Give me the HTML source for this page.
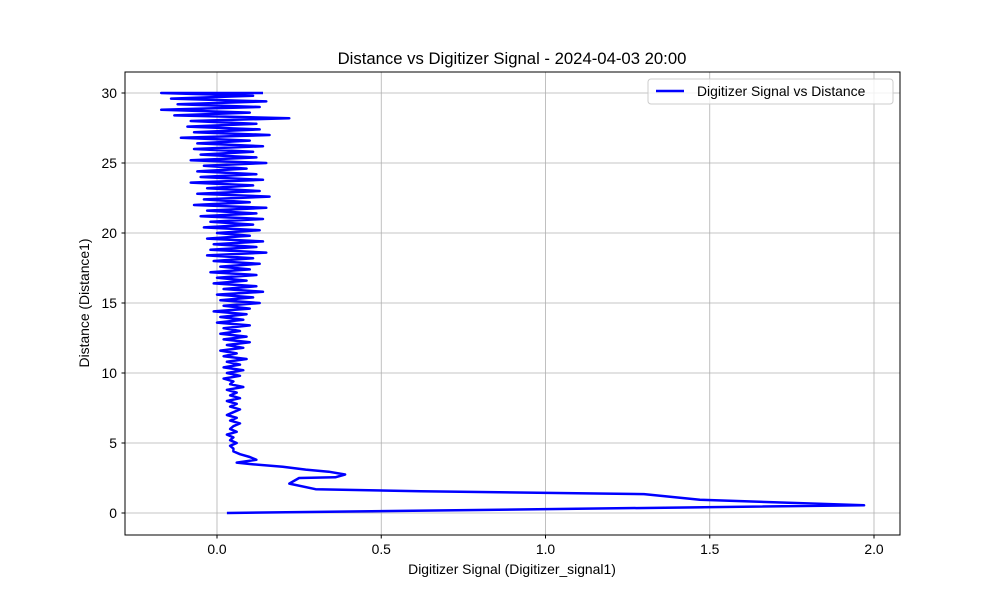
<!DOCTYPE html>
<html><head><meta charset="utf-8"><style>
body{margin:0;background:#fff;}
svg{display:block;font-family:"Liberation Sans","DejaVu Sans",sans-serif;}
</style></head><body>
<svg id="chart" width="1000" height="600">
<rect width="1000" height="600" fill="#fff"/>
<text x="512" y="64" font-size="16.7" text-anchor="middle">Distance vs Digitizer Signal - 2024-04-03 20:00</text>
<g id="grid"></g><g id="series"></g>
<rect x="125" y="72" width="775" height="463" fill="none" stroke="#000" stroke-width="1"/>
<g id="ticks"></g>
<text x="512" y="574" font-size="13.9" text-anchor="middle">Digitizer Signal (Digitizer_signal1)</text>
<text x="89" y="303" font-size="13.9" text-anchor="middle" transform="rotate(-90 89 303)">Distance (Distance1)</text>
<g>
<rect x="648" y="79" width="245" height="25" rx="3" fill="#fff" fill-opacity="0.8" stroke="#ccc"/>
<line x1="656" y1="91" x2="684" y2="91" stroke="blue" stroke-width="2.5"/>
<text x="697" y="96" font-size="13.9">Digitizer Signal vs Distance</text>
</g>
</svg>
<script>
const xTicks=[0.0,0.5,1.0,1.5,2.0];
const xTickLabels=["0.0","0.5","1.0","1.5","2.0"];
const yTicks=[0,5,10,15,20,25,30];
const yTickLabels=["0","5","10","15","20","25","30"];
const headDist=[0.0,0.55,0.95,1.35,1.55,1.7,2.1,2.5,2.55,2.75,2.95,3.1,3.3,3.5,3.6,3.8,4.0,4.2,4.4];
const headSig=[0.03,1.97,1.47,1.3,0.62,0.3,0.22,0.25,0.36,0.39,0.34,0.27,0.2,0.1,0.06,0.12,0.1,0.07,0.05];
const tailDist=[4.6,4.8,5.0,5.2,5.4,5.6,5.8,6.0,6.2,6.4,6.6,6.8,7.0,7.2,7.4,7.6,7.8,8.0,8.2,8.4,8.6,8.8,9.0,9.2,9.4,9.6,9.8,10.0,10.2,10.4,10.6,10.8,11.0,11.2,11.4,11.6,11.8,12.0,12.2,12.4,12.6,12.8,13.0,13.2,13.4,13.6,13.8,14.0,14.2,14.4,14.6,14.8,15.0,15.2,15.4,15.6,15.8,16.0,16.2,16.4,16.6,16.8,17.0,17.2,17.4,17.6,17.8,18.0,18.2,18.4,18.6,18.8,19.0,19.2,19.4,19.6,19.8,20.0,20.2,20.4,20.6,20.8,21.0,21.2,21.4,21.6,21.8,22.0,22.2,22.4,22.6,22.8,23.0,23.2,23.4,23.6,23.8,24.0,24.2,24.4,24.6,24.8,25.0,25.2,25.4,25.6,25.8,26.0,26.2,26.4,26.6,26.8,27.0,27.2,27.4,27.6,27.8,28.0,28.2,28.4,28.6,28.8,29.0,29.2,29.4,29.6,29.8,30.0,30.0];
const tailSig=[0.05,0.04,0.06,0.04,0.05,0.03,0.06,0.04,0.05,0.07,
0.04,0.06,0.03,0.05,0.07,0.04,0.06,0.03,0.07,0.04,
0.06,0.03,0.08,0.04,0.05,0.02,0.07,0.03,0.08,0.02,
0.07,0.03,0.09,0.02,0.06,0.01,0.08,0.03,0.10,0.02,
0.09,0.01,0.07,0.02,0.10,0.00,0.08,0.01,0.09,-0.01,
0.10,0.02,0.13,0.01,0.11,0.00,0.14,0.02,0.12,-0.01,
0.09,0.00,0.12,-0.02,0.10,0.01,0.13,-0.01,0.11,-0.03,
0.15,-0.02,0.12,-0.01,0.14,-0.03,0.10,0.00,0.13,-0.04,
0.11,-0.02,0.14,-0.05,0.12,-0.03,0.15,-0.07,0.10,-0.04,
0.16,-0.06,0.13,-0.03,0.11,-0.08,0.14,-0.05,0.12,-0.06,
0.09,-0.04,0.15,-0.08,0.12,-0.05,0.11,-0.07,0.14,-0.06,
0.10,-0.11,0.16,-0.07,0.13,-0.09,0.12,-0.08,0.22,-0.13,
0.10,-0.17,0.13,-0.12,0.15,-0.14,0.11,-0.17,0.14];
const NS="http://www.w3.org/2000/svg";
const xS=v=>217+v*328.5;
const yS=v=>513-v*14;
const grid=document.getElementById('grid'),ticks=document.getElementById('ticks'),ser=document.getElementById('series');
function mk(tag,attrs,parent){const e=document.createElementNS(NS,tag);for(const k in attrs)e.setAttribute(k,attrs[k]);parent.appendChild(e);return e;}
xTicks.forEach((v,i)=>{const x=xS(v);
const g=mk('line',{x1:x,x2:x,y1:72,y2:535,stroke:'#b0b0b0','stroke-width':0.8},grid);


const t=mk('line',{x1:x,x2:x,y1:535,y2:538.5,stroke:'#000'},ticks);


const l=mk('text',{x:x,y:554,'font-size':13.9,'text-anchor':'middle'},ticks);l.textContent=xTickLabels[i];

});
yTicks.forEach((v,i)=>{const y=yS(v);
const g=mk('line',{x1:125,x2:900,y1:y,y2:y,stroke:'#b0b0b0','stroke-width':0.8},grid);


const t=mk('line',{x1:121.5,x2:125,y1:y,y2:y,stroke:'#000'},ticks);


const l=mk('text',{x:117,y:y+5,'font-size':13.9,'text-anchor':'end'},ticks);l.textContent=yTickLabels[i];

});
const d=headDist.concat(tailDist),s=headSig.concat(tailSig);
const pts=d.map((v,i)=>xS(s[i]).toFixed(1)+','+yS(v).toFixed(1)).join(' ');
const pl=mk('polyline',{points:pts,fill:'none',stroke:'blue','stroke-width':2.5,'stroke-linejoin':'round'},ser);


</script>
</body></html>
